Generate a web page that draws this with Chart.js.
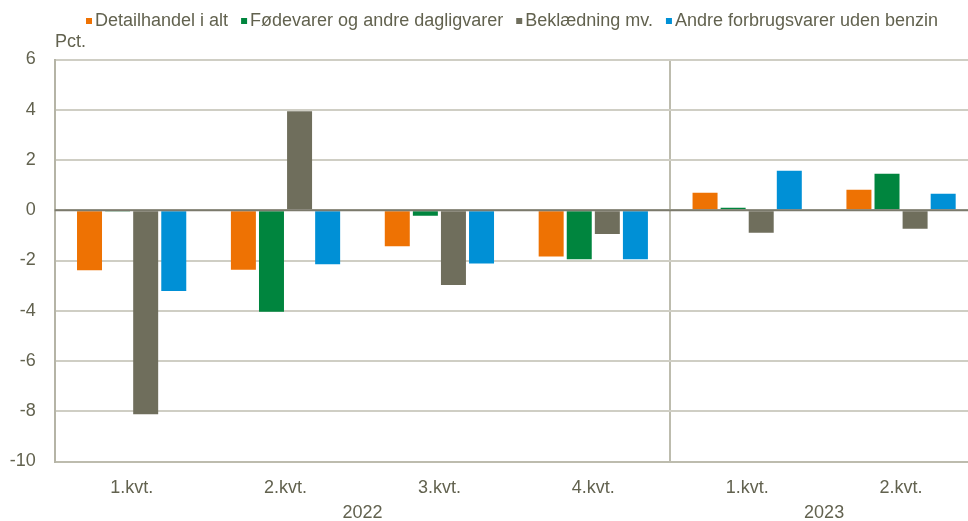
<!DOCTYPE html>
<html>
<head>
<meta charset="utf-8">
<script src="https://cdn.jsdelivr.net/npm/chart.js@4/dist/chart.umd.min.js"></script>
<style>
  html, body { margin: 0; padding: 0; background: #fff; overflow: hidden; }
  #wrap { position: absolute; left: 0; top: 0; width: 978px; height: 521px; }
</style>
</head>
<body>
<div id="wrap"><canvas id="c" width="978" height="521"></canvas></div>
<script>
const categories = ['1.kvt.', '2.kvt.', '3.kvt.', '4.kvt.', '1.kvt.', '2.kvt.'];
const years = ['2022', '2023'];
const yearCenters = [1.5, 4.5];
const seriesNames = ['Detailhandel i alt', 'Fødevarer og andre dagligvarer', 'Beklædning mv.', 'Andre forbrugsvarer uden benzin'];
const detailhandel = [-2.39, -2.37, -1.43, -1.84, 0.70, 0.82];
const foedevarer = [-0.03, -4.04, -0.22, -1.95, 0.10, 1.45];
const beklaedning = [-8.12, 3.94, -2.98, -0.95, -0.90, -0.74];
const andre = [-3.21, -2.15, -2.12, -1.95, 1.57, 0.66];
const colors = ['#EE7203', '#00853E', '#6F6E5C', '#0090D6'];
const yTicks = { min: -10, max: 6, step: 2 };

const FONT = '"Liberation Sans", Arial, sans-serif';
const TXT = '#62624f';
const FS = 18;

const extras = {
  id: 'extras',
  afterDatasetsDraw(chart) {
    const { ctx, chartArea, scales } = chart;
    const y0 = scales.y.getPixelForValue(0);
    ctx.save();
    ctx.strokeStyle = '#7b7a6c';
    ctx.lineWidth = 2;
    ctx.beginPath();
    ctx.moveTo(chartArea.left, y0);
    ctx.lineTo(chartArea.right, y0);
    ctx.stroke();
    ctx.restore();
  },
  afterDraw(chart) {
    const { ctx, scales } = chart;
    ctx.save();
    ctx.font = FS + 'px ' + FONT;
    ctx.fillStyle = TXT;
    ctx.textBaseline = 'middle';
    ctx.textAlign = 'center';
    years.forEach((yr, i) => {
      ctx.fillText(yr, scales.x.getPixelForValue(yearCenters[i]), 513);
    });
    ctx.textAlign = 'left';
    ctx.fillText('Pct.', 55, 42);
    // legend
    const box = 6, gap = 3, itemGap = 13;
    const widths = seriesNames.map(n => ctx.measureText(n).width);
    let x = 86;
    const ly = 21;
    seriesNames.forEach((n, i) => {
      ctx.fillStyle = colors[i];
      ctx.fillRect(x, ly - box / 2, box, box);
      x += box + gap;
      ctx.fillStyle = TXT;
      ctx.fillText(n, x, ly);
      x += widths[i] + itemGap;
    });
    ctx.restore();
  }
};

const datasetValues = [detailhandel, foedevarer, beklaedning, andre];

new Chart(document.getElementById('c'), {
  type: 'bar',
  data: {
    labels: categories,
    datasets: seriesNames.map((name, i) => ({
      label: name,
      data: datasetValues[i],
      backgroundColor: colors[i],
      borderWidth: 0,
      categoryPercentage: 0.73,
      barPercentage: 0.89
    }))
  },
  options: {
    responsive: false,
    animation: false,
    devicePixelRatio: 1,
    layout: { padding: { top: 59.5, left: 0, right: 0, bottom: 0 } },
    plugins: { legend: { display: false }, tooltip: { enabled: false } },
    scales: {
      x: {
        type: 'category',
        offset: true,
        grid: {
          offset: true,
          drawTicks: false,
          lineWidth: 2,
          color: (c) => (c.index === 4 ? '#bdbcae' : 'rgba(0,0,0,0)')
        },
        border: { display: true, color: '#bdbcae', width: 2 },
        ticks: {
          font: { family: FONT, size: FS },
          color: TXT,
          padding: 16,
          maxRotation: 0,
          autoSkip: false
        },
        afterFit(scale) { scale.height = 521 - 461.5; }
      },
      y: {
        min: yTicks.min,
        max: yTicks.max,
        ticks: {
          stepSize: yTicks.step,
          font: { family: FONT, size: FS },
          color: TXT,
          padding: 19
        },
        grid: {
          drawTicks: false,
          lineWidth: 2,
          color: '#cfcec4'
        },
        border: { display: true, color: '#b5b4a6', width: 2 },
        afterFit(scale) { scale.width = 54.7; }
      }
    }
  },
  plugins: [extras]
});
</script>
</body>
</html>
